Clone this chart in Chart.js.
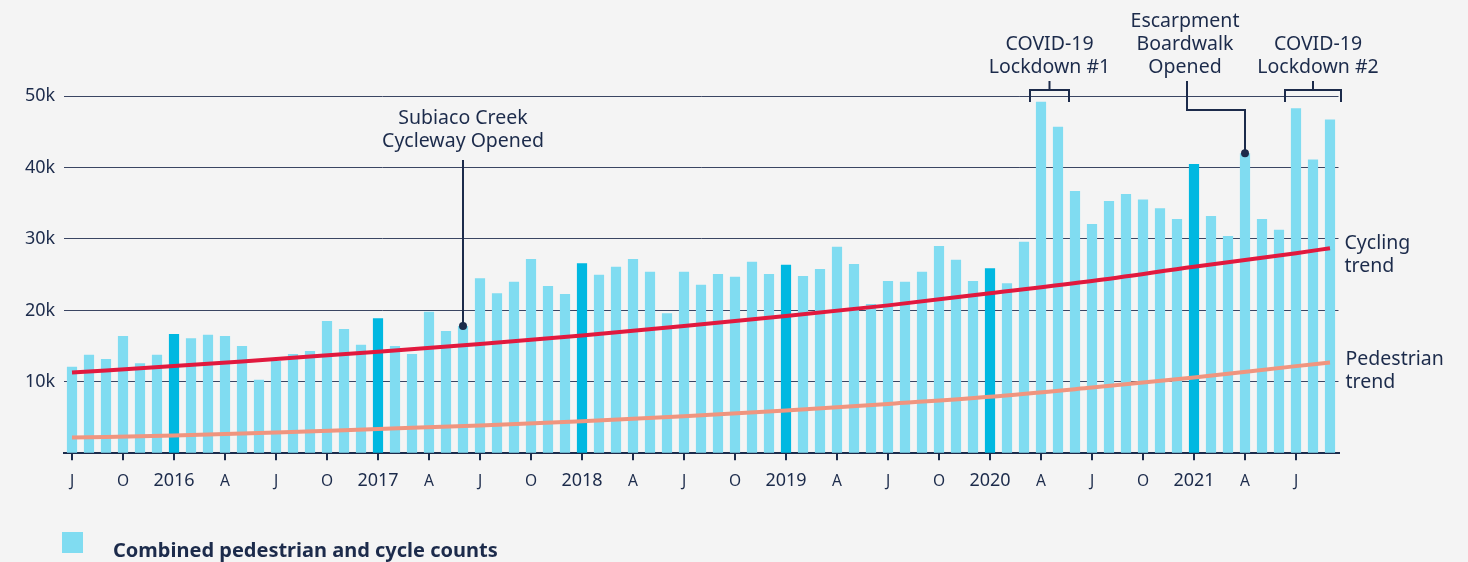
<!DOCTYPE html>
<html lang="en">
<head>
<meta charset="UTF-8">
<title>Combined pedestrian and cycle counts</title>
<script src="https://cdn.jsdelivr.net/npm/chart.js"></script>
<style>
  html, body { margin: 0; padding: 0; background: #f4f4f4; }
  #wrap { width: 1468px; height: 562px; position: relative; }
</style>
</head>
<body>
<div id="wrap"><canvas id="countsChart"></canvas></div>
<script>
// monthly, Jul 2015 .. Sep 2021
const months = [
  'Jul 2015','Aug 2015','Sep 2015','Oct 2015','Nov 2015','Dec 2015',
  'Jan 2016','Feb 2016','Mar 2016','Apr 2016','May 2016','Jun 2016','Jul 2016','Aug 2016','Sep 2016','Oct 2016','Nov 2016','Dec 2016',
  'Jan 2017','Feb 2017','Mar 2017','Apr 2017','May 2017','Jun 2017','Jul 2017','Aug 2017','Sep 2017','Oct 2017','Nov 2017','Dec 2017',
  'Jan 2018','Feb 2018','Mar 2018','Apr 2018','May 2018','Jun 2018','Jul 2018','Aug 2018','Sep 2018','Oct 2018','Nov 2018','Dec 2018',
  'Jan 2019','Feb 2019','Mar 2019','Apr 2019','May 2019','Jun 2019','Jul 2019','Aug 2019','Sep 2019','Oct 2019','Nov 2019','Dec 2019',
  'Jan 2020','Feb 2020','Mar 2020','Apr 2020','May 2020','Jun 2020','Jul 2020','Aug 2020','Sep 2020','Oct 2020','Nov 2020','Dec 2020',
  'Jan 2021','Feb 2021','Mar 2021','Apr 2021','May 2021','Jun 2021','Jul 2021','Aug 2021','Sep 2021'
];

const tickLabels = [
  'J','','','O','','',
  '2016','','','A','','','J','','','O','','',
  '2017','','','A','','','J','','','O','','',
  '2018','','','A','','','J','','','O','','',
  '2019','','','A','','','J','','','O','','',
  '2020','','','A','','','J','','','O','','',
  '2021','','','A','','','J','',''
];

const counts = [
  12100, 13800, 13200, 16400, 12600, 13800,
  16700, 16100, 16600, 16400, 15000, 10300, 12900, 13900, 14300, 18500, 17400, 15200,
  18900, 15000, 13900, 19800, 17100, 17800, 24500, 22400, 24000, 27200, 23400, 22300,
  26600, 25000, 26100, 27200, 25400, 19600, 25400, 23600, 25100, 24700, 26800, 25100,
  26400, 24800, 25800, 28900, 26500, 20900, 24100, 24000, 25400, 29000, 27100, 24100,
  25900, 23800, 29600, 49200, 45700, 36700, 32100, 35300, 36300, 35500, 34300, 32800,
  40500, 33200, 30400, 42000, 32800, 31300, 48300, 41100, 46700
];

// trend lines read every six months (null = not read, line spans the gap)
const cyclingTrend = [
  11300, null, null, null, null, null,
  12200, null, null, null, null, null, 13200, null, null, null, null, null,
  14200, null, null, null, null, null, 15300, null, null, null, null, null,
  16500, null, null, null, null, null, 17800, null, null, null, null, null,
  19200, null, null, null, null, null, 20700, null, null, null, null, null,
  22400, null, null, null, null, null, 24100, null, null, null, null, null,
  26100, null, null, null, null, null, 28000, null, 28700
];

const pedestrianTrend = [
  2200, null, null, null, null, null,
  2500, null, null, null, null, null, 2900, null, null, null, null, null,
  3400, null, null, null, null, null, 3900, null, null, null, null, null,
  4500, null, null, null, null, null, 5200, null, null, null, null, null,
  6000, null, null, null, null, null, 6900, null, null, null, null, null,
  7900, null, null, null, null, null, 9200, null, null, null, null, null,
  10600, null, null, null, null, null, 12200, null, 12700
];

const ink = '#1c2b4b';
const barLight = '#80dcf1';
const barDark = '#00b8e1';
const fontName = '"Noto Sans", sans-serif';

const notes = {
  id: 'notes',
  afterDraw(chart) {
    const { ctx } = chart;
    const x = chart.scales.x, y = chart.scales.y;
    const px = m => x.getPixelForValue(months.indexOf(m));
    const topOf = m => y.getPixelForValue(counts[months.indexOf(m)]);

    ctx.save();
    ctx.fillStyle = ink;
    ctx.strokeStyle = ink;
    ctx.lineWidth = 2;
    ctx.font = '19.5px ' + fontName;
    ctx.textAlign = 'center';
    ctx.textBaseline = 'middle';

    function dot(cx, cy) {
      ctx.beginPath();
      ctx.arc(cx, cy, 4, 0, Math.PI * 2);
      ctx.fill();
    }
    function bracket(first, last) {
      const l = px(first) - 11, r = px(last) + 11, c = (l + r) / 2;
      ctx.beginPath();
      ctx.moveTo(l, 102); ctx.lineTo(l, 90); ctx.lineTo(r, 90); ctx.lineTo(r, 102);
      ctx.moveTo(c, 90); ctx.lineTo(c, 81);
      ctx.stroke();
      return c;
    }

    // Subiaco Creek
    const sx = px('Jun 2017');
    ctx.fillText('Subiaco Creek', sx, 118);
    ctx.fillText('Cycleway Opened', sx, 141);
    ctx.beginPath();
    ctx.moveTo(sx, 160); ctx.lineTo(sx, topOf('Jun 2017'));
    ctx.stroke();
    dot(sx, topOf('Jun 2017'));

    // Lockdown #1
    const c1 = bracket('Apr 2020', 'May 2020');
    ctx.fillText('COVID-19', c1, 44);
    ctx.fillText('Lockdown #1', c1, 67);

    // Escarpment boardwalk
    const ex = px('Apr 2021');
    const ey = topOf('Apr 2021');
    const lx = ex - 58;
    ctx.fillText('Escarpment', lx - 2, 21);
    ctx.fillText('Boardwalk', lx - 2, 44);
    ctx.fillText('Opened', lx - 2, 67);
    ctx.beginPath();
    ctx.moveTo(lx, 81); ctx.lineTo(lx, 110); ctx.lineTo(ex, 110); ctx.lineTo(ex, ey);
    ctx.stroke();
    dot(ex, ey);

    // Lockdown #2
    const c2 = bracket('Jul 2021', 'Sep 2021');
    ctx.fillText('COVID-19', c2 + 5, 44);
    ctx.fillText('Lockdown #2', c2 + 5, 67);

    // trend labels
    ctx.textAlign = 'left';
    const endX = x.right + 6;
    const cy = y.getPixelForValue(cyclingTrend[cyclingTrend.length - 1]);
    ctx.fillText('Cycling', endX, cy - 5);
    ctx.fillText('trend', endX, cy + 18);
    const py = y.getPixelForValue(pedestrianTrend[pedestrianTrend.length - 1]);
    ctx.fillText('Pedestrian', endX + 1, py - 3);
    ctx.fillText('trend', endX + 1, py + 20);

    // legend
    ctx.fillStyle = barLight;
    ctx.fillRect(62, 532, 21, 21);
    ctx.fillStyle = ink;
    ctx.font = 'bold 20px ' + fontName;
    ctx.textBaseline = 'alphabetic';
    ctx.fillText('Combined pedestrian and cycle counts', 113, 557);
    ctx.restore();
  }
};

new Chart(document.getElementById('countsChart'), {
  type: 'bar',
  data: {
    labels: months,
    datasets: [
      {
        type: 'line',
        label: 'Cycling trend',
        data: cyclingTrend,
        borderColor: '#e1193e',
        borderWidth: 4,
        pointRadius: 0,
        spanGaps: true,
        cubicInterpolationMode: 'monotone',
        order: 1
      },
      {
        type: 'line',
        label: 'Pedestrian trend',
        data: pedestrianTrend,
        borderColor: '#f0957f',
        borderWidth: 4,
        pointRadius: 0,
        spanGaps: true,
        cubicInterpolationMode: 'monotone',
        order: 1
      },
      {
        label: 'Combined pedestrian and cycle counts',
        data: counts,
        backgroundColor: c => months[c.dataIndex].startsWith('Jan') ? barDark : barLight,
        barPercentage: 0.6,
        categoryPercentage: 1,
        order: 2
      }
    ]
  },
  options: {
    responsive: true,
    maintainAspectRatio: false,
    animation: false,
    layout: { padding: { top: 96, left: 25, right: 129.5, bottom: 0 } },
    plugins: { legend: { display: false }, tooltip: { enabled: false } },
    scales: {
      x: {
        grid: {
          offset: false,
          drawOnChartArea: false,
          tickLength: 7,
          lineWidth: 2,
          color: c => tickLabels[c.index] ? ink : 'rgba(0,0,0,0)'
        },
        border: { color: ink, width: 2 },
        ticks: {
          autoSkip: false,
          maxRotation: 0,
          padding: 10,
          color: ink,
          font: c => /^\d{4}$/.test(tickLabels[c.index])
            ? { family: fontName, size: 18, lineHeight: '22px' }
            : { family: fontName, size: 15.5, lineHeight: '22px' },
          callback: (v, i) => tickLabels[i]
        },
        afterFit: s => { s.height = 108.7; }
      },
      y: {
        min: 0,
        max: 50000,
        grid: { color: '#3a4562', lineWidth: 1, drawTicks: false },
        border: { display: false },
        ticks: {
          stepSize: 10000,
          crossAlign: 'far',
          padding: 0,
          color: ink,
          font: { family: fontName, size: 18 },
          callback: v => v === 0 ? '' : (v / 1000) + 'k'
        },
        afterFit: s => { s.width = 38.5; }
      }
    }
  },
  plugins: [notes]
});
</script>
</body>
</html>
